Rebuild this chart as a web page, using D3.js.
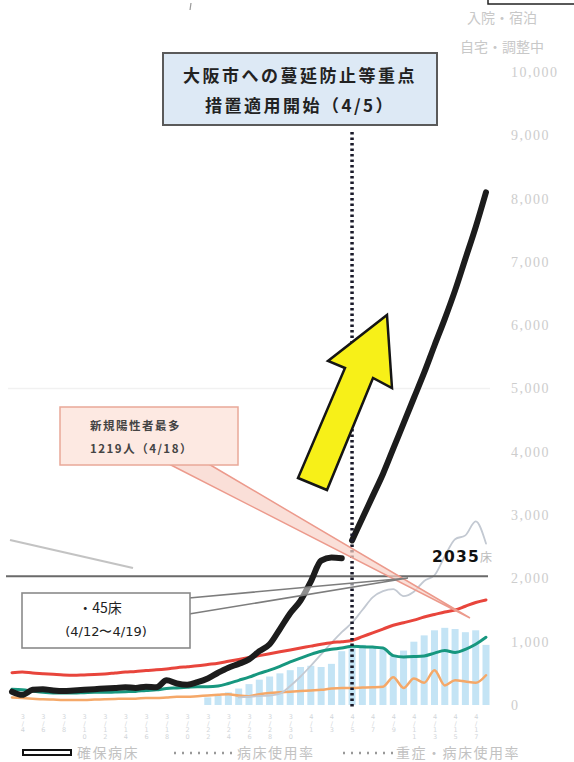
<!DOCTYPE html>
<html><head><meta charset="utf-8">
<script src="https://cdn.jsdelivr.net/npm/d3@7"></script>
<style>
html,body{margin:0;padding:0;background:#fff;}
svg{display:block;}
</style></head>
<body>
<svg id="chart" width="574" height="762"></svg>
<script>
// ---- data ----
const days = ["3/3","3/4","3/5","3/6","3/7","3/8","3/9","3/10","3/11","3/12","3/13","3/14","3/15","3/16","3/17","3/18","3/19","3/20","3/21","3/22","3/23","3/24","3/25","3/26","3/27","3/28","3/29","3/30","3/31","4/1","4/2","4/3","4/4","4/5","4/6","4/7","4/8","4/9","4/10","4/11","4/12","4/13","4/14","4/15","4/16","4/17","4/18"];
const tickLabels = ["3/4","3/6","3/8","3/10","3/12","3/14","3/16","3/18","3/20","3/22","3/24","3/26","3/28","3/30","4/1","4/3","4/5","4/7","4/9","4/11","4/13","4/15","4/17"];
const yTicks = [0,1000,2000,3000,4000,5000,6000,7000,8000,9000,10000];
// thick black line (break after 4/4)
const blackSeries = [210,160,240,250,230,220,230,240,250,260,270,280,270,290,280,390,340,320,360,420,510,590,650,720,850,960,1200,1450,1650,1950,2280,2330,2320,2600,2950,3300,3650,4050,4450,4850,5250,5680,6100,6550,7050,7550,8100];
const blackBreakAfter = "4/4";
const redSeries = [510,520,505,495,485,475,470,475,480,490,505,520,530,545,555,570,590,605,620,640,660,690,720,750,780,810,840,870,900,930,960,985,1000,1020,1080,1140,1200,1260,1300,1340,1390,1430,1470,1500,1560,1620,1660];
const tealSeries = [250,240,220,200,190,190,190,195,200,200,205,210,215,230,240,260,270,280,290,290,300,340,390,440,500,550,610,680,740,800,850,880,900,930,920,915,900,780,760,765,775,820,860,830,880,960,1070];
const orangeSeries = [120,110,100,90,85,80,80,80,85,90,95,100,100,110,110,120,130,130,140,150,160,170,150,140,170,190,200,210,220,230,240,260,270,270,275,280,290,440,270,420,350,550,310,390,370,350,470];
const graySeries = [null,null,null,null,null,null,null,null,null,null,null,null,null,null,null,null,null,null,null,null,null,null,120,130,140,150,180,300,450,620,800,980,1150,1300,1500,1700,1800,1830,1720,1790,1960,2050,2350,2620,2680,2900,2550];
const barSeries = [null,null,null,null,null,null,null,null,null,null,null,null,null,null,null,null,null,null,null,120,150,200,260,330,400,450,500,550,600,620,600,650,850,900,950,900,880,780,860,1000,1100,1180,1219,1200,1150,1180,950];
const capacity = 2035;
const capacityLabel = "2035床";
const eventDay = "4/5";
const boxLines = ["大阪市への蔓延防止等重点","措置適用開始（4/5）"];
const pinkLines = ["新規陽性者最多","1219人（4/18）"];
const whiteLines = ["・45床","(4/12〜4/19)"];
const headerLines = ["入院・宿泊","自宅・調整中"];
const legendItems = ["確保病床","病床使用率","重症・病床使用率"];

// ---- scales ----
const svg = d3.select("#chart");
const x = d3.scalePoint().domain(days).range([12, 486]);
const y = d3.scaleLinear().domain([0, 10000]).range([705, 72]);
const JP = "'Noto Sans CJK JP','Noto Sans',sans-serif";

// faint gridline
svg.append("line").attr("x1",8).attr("x2",490).attr("y1",y(5000)).attr("y2",y(5000))
  .attr("stroke","#f1f1f1").attr("stroke-width",1.5);

// bars
const bw = 7;
svg.append("g").selectAll("rect").data(days.map((d,i)=>({d,v:barSeries[i]})).filter(o=>o.v!=null))
  .join("rect")
  .attr("x",o=>x(o.d)-bw/2).attr("width",bw)
  .attr("y",o=>y(o.v)).attr("height",o=>y(0)-y(o.v))
  .attr("fill","#c4e4f5");

function drawLine(vals, color, width) {
  const data = days.map((d,i)=>({d,v:vals[i]}));
  const line = d3.line().defined(o=>o.v!=null).x(o=>x(o.d)).y(o=>y(o.v)).curve(d3.curveMonotoneX);
  svg.append("path").datum(data).attr("d",line).attr("fill","none")
    .attr("stroke",color).attr("stroke-width",width)
    .attr("stroke-linejoin","round").attr("stroke-linecap","round");
}
drawLine(orangeSeries,"#f5a868",2.5);
drawLine(graySeries,"#c3c9d2",1.8);

// capacity line
svg.append("line").attr("x1",6).attr("x2",488).attr("y1",y(capacity)).attr("y2",y(capacity))
  .attr("stroke","#6a6a6a").attr("stroke-width",2);

drawLine(tealSeries,"#17977f",3);
drawLine(redSeries,"#e8453c",3);

// black thick line in two segments
const bi = days.indexOf(blackBreakAfter);
const blackA = blackSeries.map((v,i)=> i<=bi ? v : null);
const blackB = blackSeries.map((v,i)=> i>bi ? v : null);
drawLine(blackA,"#1c1c1c",6);
drawLine(blackB,"#1c1c1c",6);

// event dotted line
svg.append("line").attr("x1",x(eventDay)).attr("x2",x(eventDay)).attr("y1",132).attr("y2",y(0)+2)
  .attr("stroke","#1a1a2a").attr("stroke-width",3.5).attr("stroke-dasharray","2.5,3");

// capacity label
svg.append("text").attr("x",432).attr("y",y(capacity)-14).attr("font-family","'DejaVu Sans',sans-serif")
  .attr("font-weight","bold").attr("font-size",15.5).attr("letter-spacing",1.2).attr("fill","#111").text(capacityLabel.slice(0,4))
  .append("tspan").attr("fill","#bbb").attr("font-weight","normal").attr("font-family",JP).attr("font-size",12).text(capacityLabel.slice(4));

// faint stray line left
svg.append("line").attr("x1",10).attr("y1",540).attr("x2",133).attr("y2",568)
  .attr("stroke","#888").attr("stroke-width",2).attr("opacity",0.5);

// pink callout
svg.append("path").attr("d","M167,463 L470,618 L207,463 Z").attr("fill","#f8d2c8").attr("opacity",0.7);
svg.append("path").attr("d","M167,463 L470,618 M207,463 L470,618").attr("stroke","#ec9a8c").attr("stroke-width",1.5).attr("fill","none");
svg.append("rect").attr("x",60).attr("y",407).attr("width",178).attr("height",58)
  .attr("fill","#fde9e2").attr("stroke","#e9a898").attr("stroke-width",1.5);
pinkLines.forEach((t,i)=>{
  svg.append("text").attr("x",90).attr("y",430+i*23).attr("font-family",JP).attr("font-weight","bold")
    .attr("font-size",11.5).attr("letter-spacing",1.5).attr("fill","#444").text(t);
});

// white callout with pointer
svg.append("path").attr("d","M189,598 L408,578 L189,614 Z").attr("fill","#fff").attr("opacity",0.5);
svg.append("path").attr("d","M189,598 L408,578 M189,614 L408,578").attr("stroke","#7d7d7d").attr("stroke-width",1.6).attr("fill","none");
svg.append("rect").attr("x",22).attr("y",593).attr("width",168).attr("height",55)
  .attr("fill","#fff").attr("stroke","#8a8a8a").attr("stroke-width",1.6);
svg.append("text").attr("x",100).attr("y",613).attr("text-anchor","middle").attr("font-family",JP)
  .attr("font-size",14).attr("fill","#222").text(whiteLines[0]);
svg.append("text").attr("x",106).attr("y",636).attr("text-anchor","middle").attr("font-family","'DejaVu Sans',sans-serif")
  .attr("font-size",13).attr("fill","#222").text(whiteLines[1]);

// yellow arrow
svg.append("path").attr("d","M387,315 L392,388 L373,378 L327,490 L298,478 L345,368 L328,361 Z")
  .attr("fill","#f7f018").attr("stroke","#151515").attr("stroke-width",2.5).attr("stroke-linejoin","miter");

// blue event box
svg.append("rect").attr("x",163).attr("y",53).attr("width",274).attr("height",72)
  .attr("fill","#dde9f5").attr("stroke","#5a5a5a").attr("stroke-width",2);
boxLines.forEach((t,i)=>{
  svg.append("text").attr("x",300).attr("y",82+i*30).attr("text-anchor","middle").attr("font-family",JP)
    .attr("font-weight","bold").attr("font-size",17).attr("letter-spacing",2.5).attr("fill","#222").text(t);
});

// y axis (right)
const yAxis = d3.axisRight(y).tickValues(yTicks).tickSize(0).tickPadding(0).tickFormat(d3.format(","));
const ga = svg.append("g").attr("transform","translate(511,0)").call(yAxis);
ga.select(".domain").remove();
ga.selectAll("text").attr("font-family","'Liberation Serif',serif").attr("font-size",14)
  .attr("letter-spacing",1.5).attr("fill","#cdcdcd");

// x axis labels (stacked vertical characters)
const xAxis = d3.axisBottom(x).tickValues(tickLabels).tickSize(0).tickFormat("");
const gx = svg.append("g").attr("transform",`translate(0,${y(0)+8})`).call(xAxis);
gx.select(".domain").remove();
gx.selectAll(".tick").each(function(d){
  const t = d3.select(this).append("text").attr("fill","#d2d6da").attr("font-family","'DejaVu Sans',sans-serif")
    .attr("font-size",6.5).attr("text-anchor","middle");
  d.split("").forEach((c,i)=>{ t.append("tspan").attr("x",0).attr("y",6+i*6.5).text(c); });
});

// header texts
headerLines.forEach((t,i)=>{
  svg.append("text").attr("x",502).attr("y",23+i*29).attr("text-anchor","middle").attr("font-family",JP)
    .attr("font-size",14).attr("fill","#c8c8c8").text(t);
});
svg.append("rect").attr("x",488).attr("y",-4).attr("width",90).attr("height",8)
  .attr("fill","none").attr("stroke","#222").attr("stroke-width",1.5);
svg.append("line").attr("x1",191).attr("y1",3).attr("x2",190).attr("y2",10).attr("stroke","#999").attr("stroke-width",1.2);

// legend
const ly = 753;
svg.append("rect").attr("x",23).attr("y",ly-3).attr("width",48).attr("height",5)
  .attr("fill","#fff").attr("stroke","#111").attr("stroke-width",2);
svg.append("line").attr("x1",174).attr("x2",234).attr("y1",ly).attr("y2",ly)
  .attr("stroke","#999").attr("stroke-width",2.5).attr("stroke-dasharray","2,6");
svg.append("line").attr("x1",343).attr("x2",393).attr("y1",ly).attr("y2",ly)
  .attr("stroke","#999").attr("stroke-width",2.5).attr("stroke-dasharray","2,6");
[[77,legendItems[0]],[237,legendItems[1]],[396,legendItems[2]]].forEach(([lx,t])=>{
  svg.append("text").attr("x",lx).attr("y",ly+5).attr("font-family",JP).attr("font-size",14)
    .attr("letter-spacing",1.5).attr("fill","#c2c2c2").text(t);
});
</script>
</body></html>
